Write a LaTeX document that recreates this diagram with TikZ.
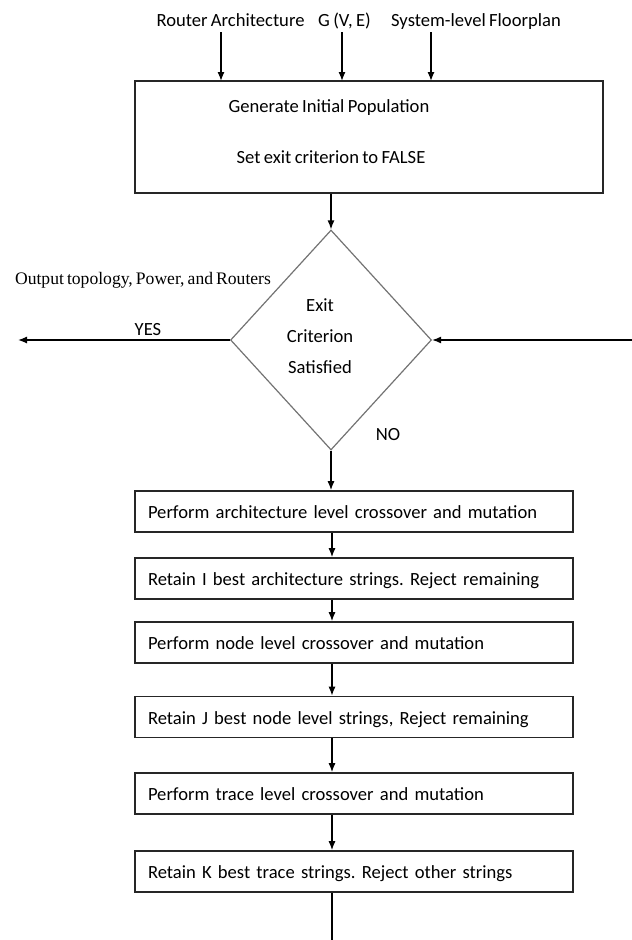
\documentclass[tikz,border=0pt]{standalone}
\usepackage{fontspec}
\setmainfont{Carlito}[WordSpace=0.8]
\newfontfamily\outfont{Liberation Serif}[WordSpace=0.7]
\usetikzlibrary{shapes.geometric,arrows.meta}
\frenchspacing

\begin{document}
\begin{tikzpicture}
[x=1pt,y=-1pt,
  darkArrow/.style={->,>={Latex[length=9pt,width=7pt]},line width=1.3pt},%
  plainLine/.style={line width=1.3pt},%
  boxDecorate/.style={shape=rectangle,draw=black!85,line width=1.6pt,inner sep=0pt},%
  stepDecorate/.style={boxDecorate,minimum width=438pt,minimum height=41pt,
    text width=412pt,align=left,inner xsep=13pt,text height=14pt,text depth=0pt,
    font=\fontsize{18.6}{22}\selectfont},%
  decisionDecorate/.style={shape=diamond,draw=black!55,line width=1.2pt,inner sep=0pt,
    minimum width=201pt,minimum height=220pt},%
  textDecorate/.style={inner sep=0pt,anchor=base,font=\fontsize{18.6}{22}\selectfont},%
  inputDecorate/.style={textDecorate,inner sep=3pt,text depth=3pt}]
\useasboundingbox (0,0) rectangle (632,940);
%% inputs on top
\node (arch) at (230.5,26) [inputDecorate] {Router Architecture};
\node (gve) at (344.5,26) [inputDecorate] {G (V, E)};
\node (floor) at (476,26) [inputDecorate] {System-level Floorplan};
%% initial box
\node (init) at (369,137) [boxDecorate,minimum width=468pt,minimum height=112pt] {};
\node (initA) at (329,112) [textDecorate] {Generate Initial Population};
\node (initB) at (331,163) [textDecorate] {Set exit criterion to FALSE};
\coordinate (archIn) at (221,81);
\coordinate (gveIn) at (342,81);
\coordinate (floorIn) at (431,81);
%% decision
\node (dec) at (331,340) [decisionDecorate] {};
\node (decText) at (320,336.5) [inner sep=0pt,align=center,
  font=\fontsize{18.6}{31}\selectfont] {Exit\\Criterion\\Satisfied};
\node (outLbl) at (143,284) [inner sep=0pt,anchor=base,
  font=\outfont\fontsize{17.6}{20}\selectfont] {Output topology, Power, and Routers};
\node (yesLbl) at (148,335) [textDecorate] {YES};
\node (noLbl) at (388,440) [textDecorate] {NO};
\coordinate (yesEnd) at (18,340);
\coordinate (loopIn) at (632,340);
%% steps
\foreach \nodename/\y/\steptext in {
  stepA/511.5/{Perform architecture level crossover and mutation},
  stepB/578.5/{Retain I best architecture strings. Reject remaining},
  stepC/642.5/{Perform node level crossover and mutation},
  stepD/717/{Retain J best node level strings, Reject remaining},
  stepE/793.5/{Perform trace level crossover and mutation},
  stepF/871.5/{Retain K best trace strings. Reject other strings}}
{
  \node (\nodename) at (354,\y) [stepDecorate] {\steptext};
}
\coordinate (column) at (332,0);
\coordinate (outEnd) at (332,940);
%% arrows
\path
\foreach \srcnode/\dstnode in {arch/archIn, gve/gveIn, floor/floorIn}
{
  (\srcnode.south -| \dstnode) edge[darkArrow] (\dstnode)
}
(init.south -| dec.north) edge[darkArrow] (dec.north)
(dec.west) edge[darkArrow] (yesEnd)
(loopIn) edge[darkArrow] (dec.east)
(dec.south) edge[darkArrow] (stepA.north -| dec.south)
\foreach \startnode/\endnode in {stepA/stepB, stepB/stepC, stepC/stepD, stepD/stepE, stepE/stepF}
{
  (\startnode.south -| column) edge[darkArrow] (\endnode.north -| column)
}
(stepF.south -| column) edge[plainLine] (outEnd);
\end{tikzpicture}
\end{document}
